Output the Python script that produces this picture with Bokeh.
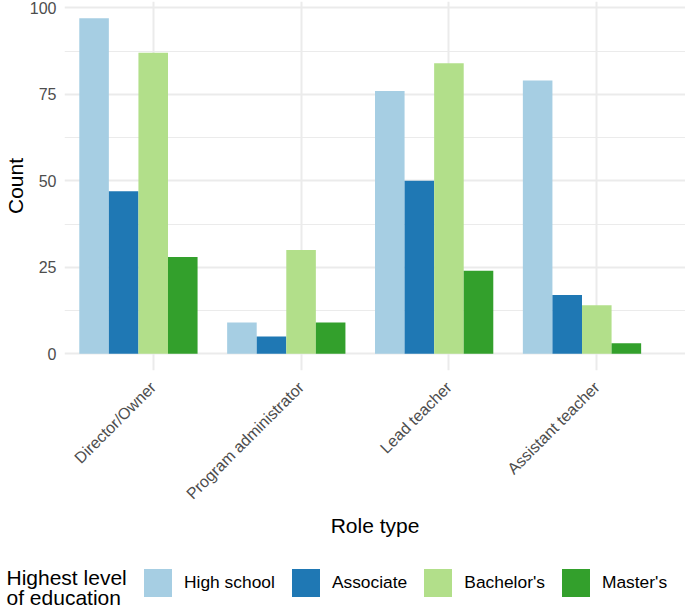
from math import pi
from bokeh.plotting import figure
from bokeh.layouts import column
from bokeh.models import (Range1d, FactorRange, FixedTicker, ColumnDataSource,
                          Legend, LegendItem, Label)
from bokeh.transform import dodge
from bokeh.embed import file_html
from bokeh.resources import INLINE

# ---- data ----
roles = ["Director/Owner", "Program administrator", "Lead teacher", "Assistant teacher"]
education = ["High school", "Associate", "Bachelor's", "Master's"]
high_school = [97, 9, 76, 79]
associate = [47, 5, 50, 17]
bachelors = [87, 30, 84, 14]
masters = [28, 9, 24, 3]
y_ticks = [0, 25, 50, 75, 100]
y_minor_ticks = [12.5, 37.5, 62.5, 87.5]

colors = ["#A6CEE3", "#1F78B4", "#B2DF8A", "#33A02C"]
FONT = "Liberation Sans"

src = ColumnDataSource(dict(role=roles, hs=high_school, assoc=associate,
                            bach=bachelors, mast=masters))
series_cols = ["hs", "assoc", "bach", "mast"]

p = figure(width=685, height=550, output_backend="svg", toolbar_location=None,
           x_range=FactorRange(*roles, range_padding=0.05, factor_padding=0),
           y_range=Range1d(-4.85, 101.85),
           min_border_left=63, min_border_right=0, min_border_top=1,
           min_border_bottom=180)
p.outline_line_color = None
p.background_fill_color = "white"
p.border_fill_color = "white"
p.frame_align = False

renderers = []
for i, (col, c) in enumerate(zip(series_cols, colors)):
    r = p.vbar(x=dodge("role", -0.4 + 0.2 * i, range=p.x_range), top=col, width=0.2,
               source=src, fill_color=c, line_color=None)
    renderers.append(r)

# grids
p.xgrid.grid_line_color = "#EBEBEB"
p.xgrid.grid_line_width = 2
p.ygrid.ticker = FixedTicker(ticks=y_ticks, minor_ticks=y_minor_ticks)
p.ygrid.grid_line_color = "#EBEBEB"
p.ygrid.grid_line_width = 2
p.ygrid.minor_grid_line_color = "#EBEBEB"
p.ygrid.minor_grid_line_width = 1

# axes
for ax in (p.xaxis[0], p.yaxis[0]):
    ax.axis_line_color = None
    ax.major_tick_line_color = None
    ax.minor_tick_line_color = None
    ax.major_tick_out = 0
    ax.major_label_text_font = FONT
    ax.major_label_text_font_size = "16px"
    ax.major_label_text_color = "#4D4D4D"
    ax.axis_label_text_font = FONT
    ax.axis_label_text_font_size = "21px"
    ax.axis_label_text_font_style = "normal"
    ax.axis_label_text_color = "black"

p.yaxis.ticker = FixedTicker(ticks=y_ticks)
p.yaxis.major_label_standoff = 8
p.yaxis.axis_label = "Count"
p.yaxis.axis_label_standoff = 0

p.xaxis.major_label_orientation = pi / 4
p.xaxis.major_label_standoff = 14
p.xaxis.axis_label = "Role type"
p.xaxis.axis_label_standoff = 3

# ---- legend strip ----
leg = figure(width=685, height=59, output_backend="svg", toolbar_location=None,
             x_range=Range1d(-2, -1), y_range=Range1d(-2, -1),
             x_axis_location=None, y_axis_location=None, min_border=0)
leg.frame_align = False
leg.outline_line_color = None
leg.xgrid.visible = False
leg.ygrid.visible = False
leg.background_fill_color = "white"
leg.border_fill_color = "white"

# key glyphs share the chart's data; they fall outside this strip's ranges
key_renderers = [leg.vbar(x=col, top=col, width=0.2, source=src,
                          fill_color=c, line_color=None)
                 for col, c in zip(series_cols, colors)]
legend = Legend(items=[LegendItem(label=lab, renderers=[r])
                       for lab, r in zip(education, key_renderers)],
                location=(140, 9), orientation="horizontal",
                glyph_width=35, glyph_height=35, label_standoff=9, spacing=13,
                padding=0, margin=0, border_line_color=None, background_fill_alpha=0,
                label_text_font=FONT, label_text_font_size="17.4px",
                label_text_color="black", label_height=20)
leg.add_layout(legend)

for txt, yy in (("Highest level", 32), ("of education", 12)):
    leg.add_layout(Label(x=6, y=yy, x_units="screen", y_units="screen", text=txt,
                         text_font=FONT, text_font_size="21px", text_color="black",
                         text_align="left", text_baseline="middle"))

open("out.html", "w").write(file_html(column(p, leg, spacing=0), INLINE))
